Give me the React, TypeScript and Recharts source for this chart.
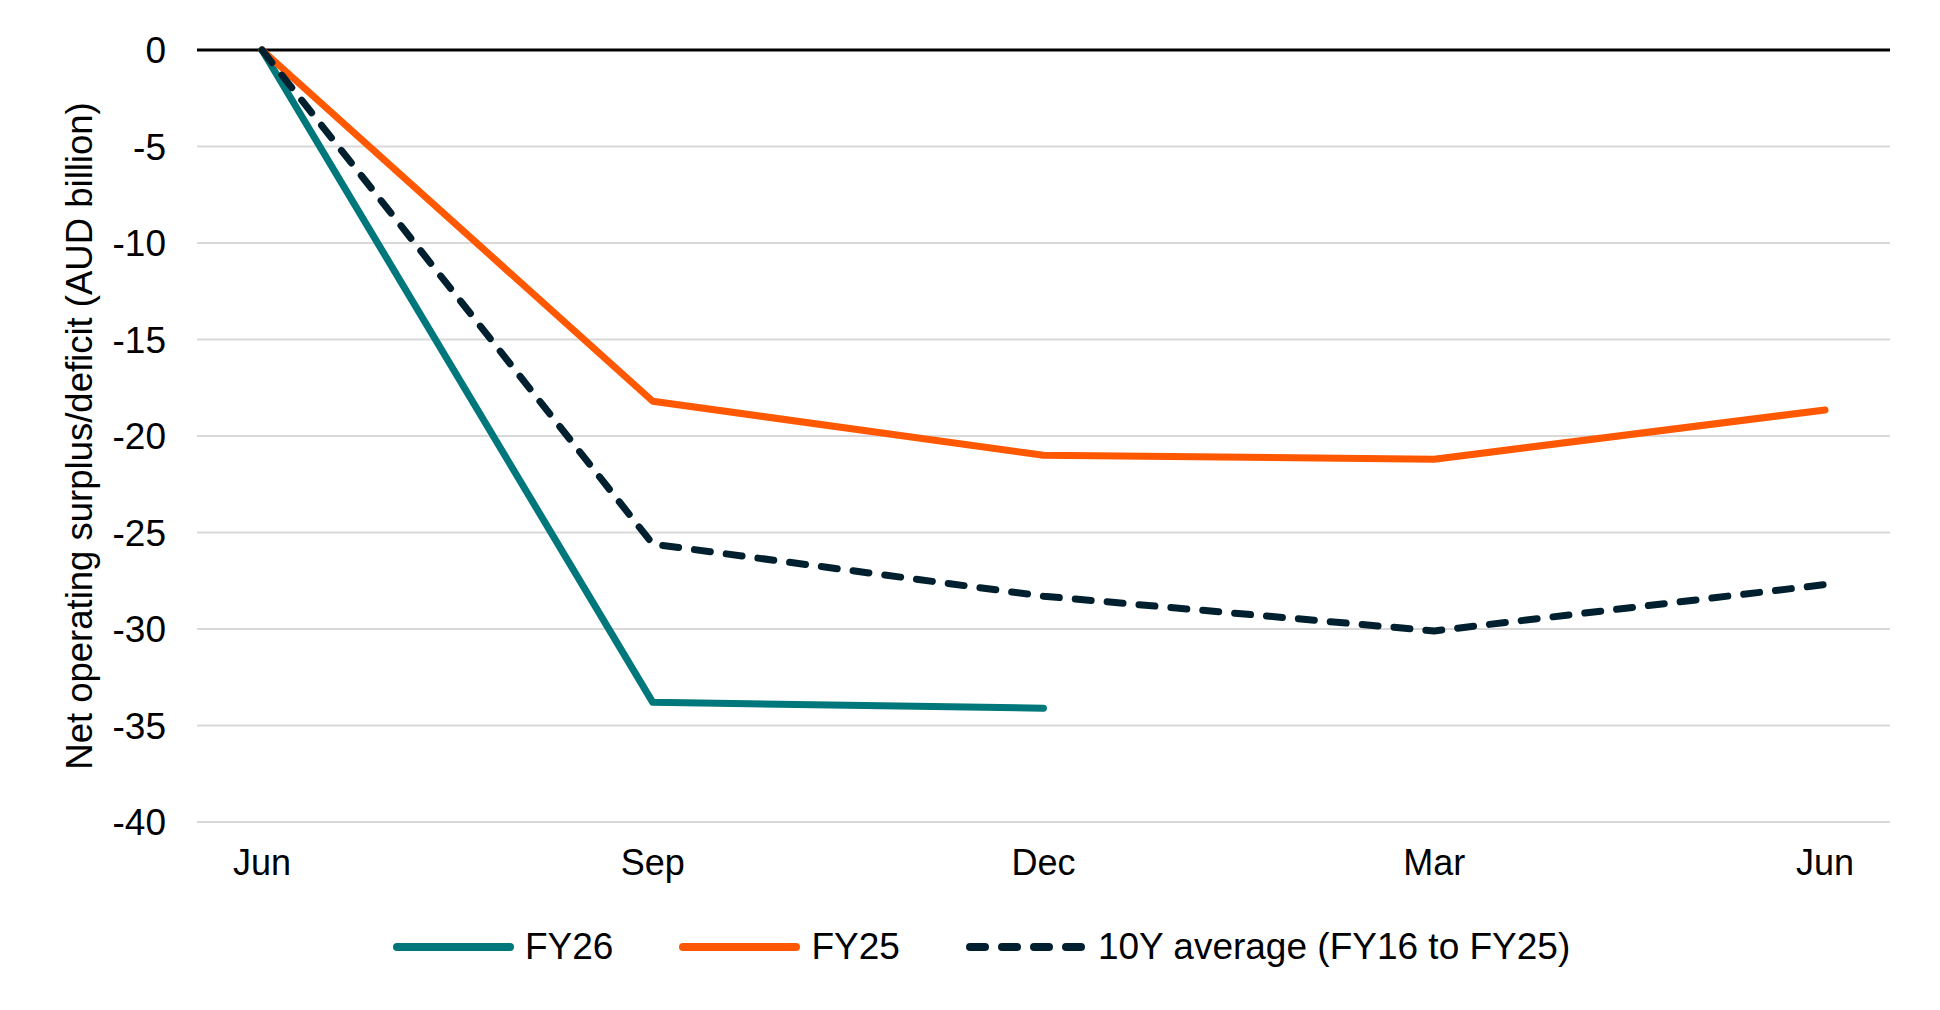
import React from 'react';
import { LineChart, Line, XAxis, YAxis, CartesianGrid, Legend, ReferenceLine } from 'recharts';

const months = ['Jun', 'Sep', 'Dec', 'Mar', 'Jun'];
const fy26 = [0, -33.8, -34.1, null, null];
const fy25 = [0, -18.2, -21.0, -21.2, -18.65];
const tenYearAvg = [0, -25.6, -28.3, -30.1, -27.7];
const yTicks = [0, -5, -10, -15, -20, -25, -30, -35, -40];

const FONT = '"Liberation Sans", Arial, sans-serif';

const SERIES = [
  { key: 'fy26', name: 'FY26', color: '#00777A', dash: undefined },
  { key: 'fy25', name: 'FY25', color: '#FF5800', dash: undefined },
  { key: 'avg', name: '10Y average (FY16 to FY25)', color: '#00202F', dash: '16 16' },
];

const data = months.map((month, i) => ({
  month,
  fy26: fy26[i],
  fy25: fy25[i],
  avg: tenYearAvg[i],
}));

const renderLegend = () => (
  <div style={{ display: 'flex', alignItems: 'center', fontFamily: FONT, fontSize: 37, color: '#000', whiteSpace: 'nowrap' }}>
    {SERIES.map((s, i) => (
      <div key={s.key} style={{ display: 'flex', alignItems: 'center', marginLeft: i ? 66 : 0 }}>
        <svg width={121} height={12}>
          <line
            x1={4}
            y1={6}
            x2={117}
            y2={6}
            stroke={s.color}
            strokeWidth={8}
            strokeLinecap="round"
            strokeDasharray={s.dash ? '15 17' : undefined}
          />
        </svg>
        <span style={{ marginLeft: 11 }}>{s.name}</span>
      </div>
    ))}
  </div>
);

const YLabel = ({ viewBox }) => {
  const cy = viewBox.y + viewBox.height / 2;
  return (
    <text
      x={84}
      y={cy}
      transform={`rotate(-90, 84, ${cy})`}
      textAnchor="middle"
      fontFamily={FONT}
      fontSize={36.5}
      fill="#000"
    >
      Net operating surplus/deficit (AUD billion)
    </text>
  );
};

const App = () => {
  return (
    <LineChart width={1924} height={990} data={data} margin={{ top: 42, right: 42, bottom: 0, left: 0 }}>
      <CartesianGrid vertical={false} stroke="#D9D9D9" strokeWidth={2} />
      <XAxis
        dataKey="month"
        axisLine={false}
        tickLine={false}
        tickSize={0}
        tickMargin={27}
        height={176}
        padding={{ left: 65, right: 65 }}
        tick={{ fontFamily: FONT, fontSize: 36, fill: '#000' }}
      />
      <YAxis
        domain={[-40, 0]}
        ticks={yTicks}
        axisLine={false}
        tickLine={false}
        tickSize={0}
        tickMargin={31}
        width={189}
        tick={{ fontFamily: FONT, fontSize: 37, fill: '#000' }}
        label={{ content: YLabel }}
      />
      <ReferenceLine y={0} stroke="#000" strokeWidth={3} />
      {SERIES.map((s) => (
        <Line
          key={s.key}
          type="linear"
          dataKey={s.key}
          name={s.name}
          stroke={s.color}
          strokeWidth={7}
          strokeDasharray={s.dash}
          strokeLinecap="round"
          strokeLinejoin="round"
          dot={false}
          activeDot={false}
          isAnimationActive={false}
        />
      ))}
      <Legend
        verticalAlign="middle"
        align="center"
        content={renderLegend}
        wrapperStyle={{ left: 385, top: 918, width: 'auto' }}
      />
    </LineChart>
  );
};

export default App;
